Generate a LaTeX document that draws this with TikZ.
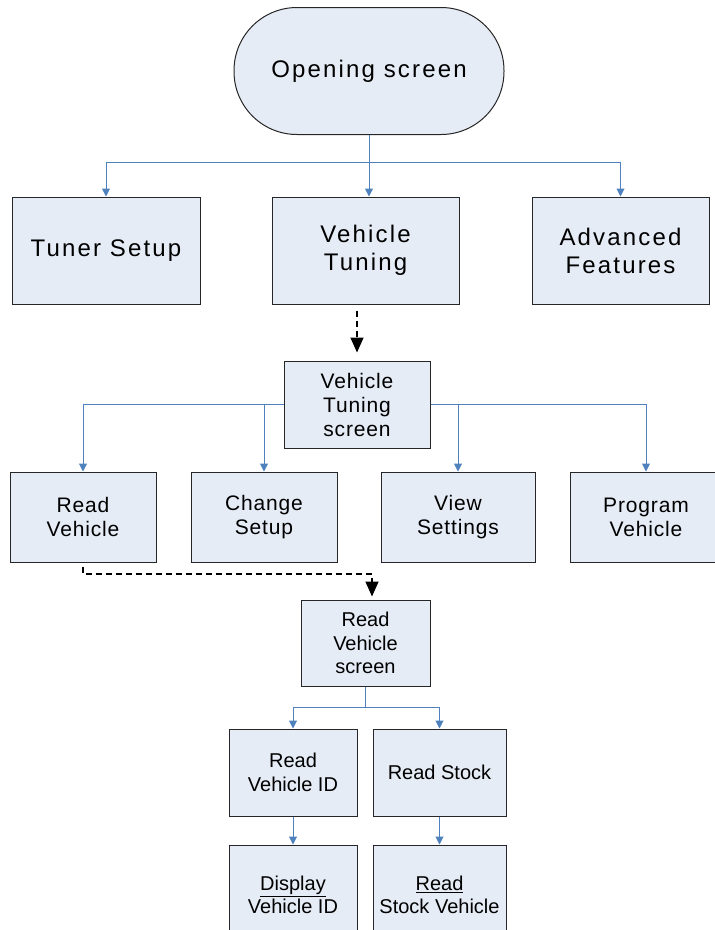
\documentclass[tikz,border=0pt]{standalone}
\usepackage{fontspec}
\setmainfont{Liberation Sans}
\newfontfamily\widefont[LetterSpace=4]{Liberation Sans}
\newfontfamily\widerfont[LetterSpace=9]{Liberation Sans}
\usetikzlibrary{arrows.meta}
\definecolor{boxfill}{RGB}{230,236,246}
\definecolor{linkblue}{RGB}{79,129,189}

\tikzset{
	box/.style={draw=black!85, fill=boxfill, line width=1pt, align=center, inner sep=0pt},
	bigbox/.style={box, font=\widerfont\fontsize{24}{28}\selectfont},
	midbox/.style={box, font=\widefont\fontsize{21}{24}\selectfont},
	lowbox/.style={box, font=\fontsize{20}{23.5}\selectfont},
	link/.style={draw=linkblue, line width=1pt, -{Triangle[width=8pt,length=8pt]}},
	jump/.style={draw=black, line width=1.6pt, dash pattern=on 6pt off 4pt, -{Triangle[width=13pt,length=15pt]}},
}

\begin{document}
\begin{tikzpicture}[x=1pt, y=-1pt]
			\useasboundingbox (0,0) rectangle (715,930);

			\node[bigbox, rounded corners=63pt, minimum width=270pt, minimum height=127pt] (open) at (369,71) {Opening screen};
			\node[bigbox, minimum width=188pt, minimum height=107pt] (tuner) at (106,250.5) {Tuner Setup};
			\node[bigbox, minimum width=187pt, minimum height=107pt] (tuning) at (365.5,250.5) {Vehicle\\Tuning};
			\node[bigbox, minimum width=177pt, minimum height=107pt] (adv) at (620.5,250.5) {Advanced\\Features};

			\node[midbox, minimum width=146pt, minimum height=87pt] (vts) at (357,404.5) {Vehicle\\Tuning\\screen};
			\node[midbox, minimum width=146pt, minimum height=90pt] (readv) at (83,517) {Read\\Vehicle};
			\node[midbox, minimum width=146pt, minimum height=90pt] (change) at (264,517) {Change\\Setup};
			\node[midbox, minimum width=154pt, minimum height=90pt] (view) at (458,517) {View\\Settings};
			\node[midbox, minimum width=152pt, minimum height=90pt] (prog) at (646,517) {Program\\Vehicle};

			\node[lowbox, minimum width=129pt, minimum height=86pt] (rvs) at (365.5,643) {Read\\Vehicle\\screen};
			\node[lowbox, minimum width=128pt, minimum height=87pt] (rvid) at (293,772.5) {Read\\Vehicle ID};
			\node[lowbox, minimum width=133pt, minimum height=87pt] (stock) at (439.5,772.5) {Read Stock};
			\node[lowbox, minimum width=128pt, minimum height=100pt] (dvid) at (293,895) {\underline{Display}\\Vehicle ID};
			\node[lowbox, minimum width=133pt, minimum height=100pt] (rsv) at (439.5,895) {\underline{Read}\\Stock Vehicle};

			% opening screen branches
			\coordinate (top split) at (369,162);
			\draw[link] (open.south) -- (top split) -| (tuner.north);
			\draw[link] (top split) -- (open.south |- tuning.north);
			\draw[link] (top split) -| (adv.north);

			\draw[jump, shorten <=6pt, shorten >=8pt] (tuning.south -| vts.north) -- (vts.north);

			% tuning screen branches
			\draw[link] (vts.west) -| (readv.north);
			\draw[link] (vts.west) -| (change.north);
			\draw[link] (vts.east) -| (view.north);
			\draw[link] (vts.east) -| (prog.north);

			\coordinate (drop) at (372,574);
			\draw[jump] ([yshift=-4pt]readv.south) |- (drop) -- ([yshift=3pt]drop |- rvs.north);

			% read vehicle screen branches
			\coordinate (low split) at (365.5,707);
			\draw[link] (rvs.south) -- (low split) -| (rvid.north);
			\draw[link] (low split) -| (stock.north);
			\draw[link] (rvid.south) -- (dvid.north);
			\draw[link] (stock.south) -- (rsv.north);
		\end{tikzpicture}
\end{document}
